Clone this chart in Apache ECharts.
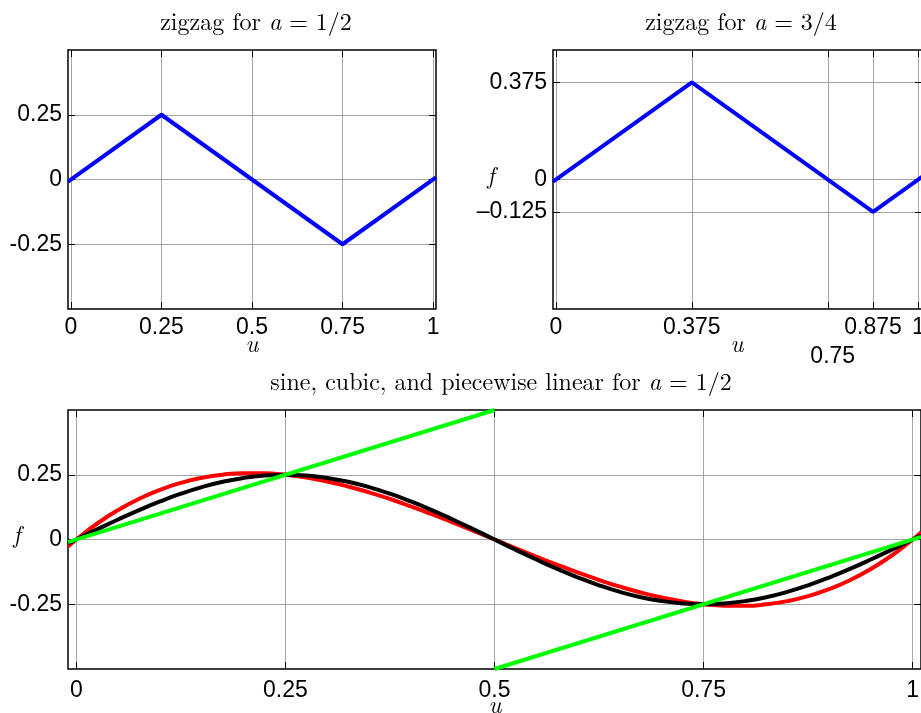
<!DOCTYPE html>
<html>
<head>
<meta charset="utf-8">
<script src="https://cdn.jsdelivr.net/npm/echarts@6/dist/echarts.min.js"></script>
<style>html,body{margin:0;padding:0;background:#fff;}#c{width:921px;height:713px;}</style>
</head>
<body>
<div id="c"></div>
<script>
// ---- data ----
const zigHalfU = [-0.008, 0.25, 0.75, 1.008];
const zigHalfF = [-0.008, 0.25, -0.25, 0.008];
const zigThreeU = [-0.008, 0.375, 0.875, 1.01];
const zigThreeF = [-0.008, 0.375, -0.125, 0.01];

const sampleU = [-0.01, 0, 0.025, 0.05, 0.075, 0.1, 0.125, 0.15, 0.175, 0.2, 0.225, 0.25, 0.275, 0.3, 0.325, 0.35, 0.375, 0.4, 0.425, 0.45, 0.475, 0.5,
  0.525, 0.55, 0.575, 0.6, 0.625, 0.65, 0.675, 0.7, 0.725, 0.75, 0.775, 0.8, 0.825, 0.85, 0.875, 0.9, 0.925, 0.95, 0.975, 1, 1.01];
const sineF = [-0.0157, 0, 0.0391, 0.0773, 0.1135, 0.1469, 0.1768, 0.2023, 0.2228, 0.2378, 0.2469, 0.25, 0.2469, 0.2378, 0.2228, 0.2023, 0.1768, 0.1469, 0.1135, 0.0773, 0.0391, 0,
  -0.0391, -0.0773, -0.1135, -0.1469, -0.1768, -0.2023, -0.2228, -0.2378, -0.2469, -0.25, -0.2469, -0.2378, -0.2228, -0.2023, -0.1768, -0.1469, -0.1135, -0.0773, -0.0391, 0, 0.0157];
const cubicF = [-0.0275, 0, 0.0618, 0.114, 0.1572, 0.192, 0.2188, 0.238, 0.2503, 0.256, 0.2557, 0.25, 0.2393, 0.224, 0.2048, 0.182, 0.1563, 0.128, 0.0978, 0.066, 0.0333, 0,
  -0.0333, -0.066, -0.0978, -0.128, -0.1563, -0.182, -0.2048, -0.224, -0.2393, -0.25, -0.2557, -0.256, -0.2503, -0.238, -0.2188, -0.192, -0.1572, -0.114, -0.0618, 0, 0.0275];
const linLeftU = [-0.01, 0.5];
const linLeftF = [-0.01, 0.5];
const linRightU = [0.5, 1.01];
const linRightF = [-0.5, 0.01];

const ticksXHalf = [0, 0.25, 0.5, 0.75, 1];
const ticksYHalf = [-0.25, 0, 0.25];
const ticksXThree = [0, 0.375, 0.75, 0.875, 1];
const ticksYThree = [-0.125, 0, 0.375];

const titles = ['zigzag for ', 'zigzag for ', 'sine, cubic, and piecewise linear for '];
const titleTails = [' = 1/2', ' = 3/4', ' = 1/2'];

// ---- helpers ----
const zip = (a, b) => a.map((v, i) => [v, b[i]]);
const labelFont = {fontFamily: 'Liberation Sans, Arial, sans-serif', fontSize: 23, color: '#000'};
const gridLine = {show: true, lineStyle: {color: '#a6a6a6', width: 1}};
const tick = (vals) => ({show: true, inside: true, length: 7, lineStyle: {color: '#000', width: 1}, customValues: vals});
const noLine = {show: false, onZero: false};

function xPair(gi, min, max, vals, fmt, margin) {
  return [
    {type: 'value', gridIndex: gi, min: min, max: max, position: 'bottom',
     axisLine: noLine, axisTick: tick(vals),
     axisLabel: Object.assign({show: true, margin: margin, customValues: vals, formatter: fmt,
       rich: {low: Object.assign({padding: [29, 0, 0, 10]}, labelFont), n: labelFont}}, labelFont),
     splitLine: gridLine},
    {type: 'value', gridIndex: gi, min: min, max: max, position: 'top',
     axisLine: noLine, axisTick: tick(vals), axisLabel: {show: false}, splitLine: {show: false}}
  ];
}
function yPair(gi, vals, fmt) {
  return [
    {type: 'value', gridIndex: gi, min: -0.5, max: 0.5, position: 'left',
     axisLine: noLine, axisTick: tick(vals),
     axisLabel: Object.assign({show: true, margin: 6, customValues: vals, formatter: fmt}, labelFont),
     splitLine: gridLine},
    {type: 'value', gridIndex: gi, min: -0.5, max: 0.5, position: 'right',
     axisLine: noLine, axisTick: tick(vals), axisLabel: {show: false}, splitLine: {show: false}}
  ];
}
const plainFmt = v => String(+v.toFixed(3));
const threeXFmt = v => Math.abs(v - 0.75) < 1e-9 ? '{low|0.75}' : '{n|' + String(+v.toFixed(3)) + '}';
const threeYFmt = v => v < 0 ? '\u2013' + String(+(-v).toFixed(3)) : String(+v.toFixed(3));

const gridBox = {show: true, borderColor: '#000', borderWidth: 1.5, backgroundColor: 'transparent', containLabel: false, outerBoundsMode: 'none'};

const serifFont = 'Latin Modern Roman, CMU Serif, Liberation Serif, DejaVu Serif, serif';
function titleText(x, y, head, tail) {
  return {type: 'text', x: x, y: y, z: 10,
    style: {text: '{r|' + head + '}{i|a}{r|' + tail + '}', align: 'center', verticalAlign: 'middle',
      rich: {r: {fontFamily: serifFont, fontSize: 24, fill: '#000'},
             i: {fontFamily: serifFont, fontSize: 24, fontStyle: 'italic', fill: '#000'}}}};
}
function axisName(x, y, t) {
  return {type: 'text', x: x, y: y, z: 10,
    style: {text: t, align: 'center', verticalAlign: 'middle', fontFamily: serifFont, fontSize: 24, fontStyle: 'italic', fill: '#000'}};
}

const option = {
  animation: false,
  backgroundColor: '#fff',
  grid: [
    Object.assign({left: 68, top: 50, width: 368, height: 259}, gridBox),
    Object.assign({left: 553, top: 50, width: 369, height: 259}, gridBox),
    Object.assign({left: 68, top: 410, width: 853, height: 259}, gridBox)
  ],
  xAxis: [].concat(
    xPair(0, -0.008, 1.008, ticksXHalf, plainFmt, 7),
    xPair(1, -0.008, 1.01, ticksXThree, threeXFmt, 7),
    xPair(2, -0.01, 1.01, ticksXHalf, plainFmt, 10)
  ),
  yAxis: [].concat(
    yPair(0, ticksYHalf, plainFmt),
    yPair(1, ticksYThree, threeYFmt),
    yPair(2, ticksYHalf, plainFmt)
  ),
  series: [
    {type: 'line', xAxisIndex: 0, yAxisIndex: 0, data: zip(zigHalfU, zigHalfF), symbol: 'none', lineStyle: {color: '#0000ff', width: 4}},
    {type: 'line', xAxisIndex: 2, yAxisIndex: 2, data: zip(zigThreeU, zigThreeF), symbol: 'none', lineStyle: {color: '#0000ff', width: 4}},
    {type: 'line', xAxisIndex: 4, yAxisIndex: 4, data: zip(sampleU, cubicF), symbol: 'none', smooth: true, lineStyle: {color: '#ff0000', width: 4}},
    {type: 'line', xAxisIndex: 4, yAxisIndex: 4, data: zip(sampleU, sineF), symbol: 'none', smooth: true, lineStyle: {color: '#000000', width: 4}},
    {type: 'line', xAxisIndex: 4, yAxisIndex: 4, data: zip(linLeftU, linLeftF), symbol: 'none', lineStyle: {color: '#00ff00', width: 4}},
    {type: 'line', xAxisIndex: 4, yAxisIndex: 4, data: zip(linRightU, linRightF), symbol: 'none', lineStyle: {color: '#00ff00', width: 4}}
  ],
  graphic: [
    titleText(256, 23, titles[0], titleTails[0]),
    titleText(741, 23, titles[1], titleTails[1]),
    titleText(501, 383, titles[2], titleTails[2]),
    axisName(252, 345, 'u'),
    axisName(737, 345, 'u'),
    axisName(495, 706, 'u'),
    axisName(491, 177, 'f'),
    axisName(17, 536, 'f')
  ]
};
const chart = echarts.init(document.getElementById('c'), null, {renderer: 'canvas'});
chart.setOption(option);
</script>
</body>
</html>
